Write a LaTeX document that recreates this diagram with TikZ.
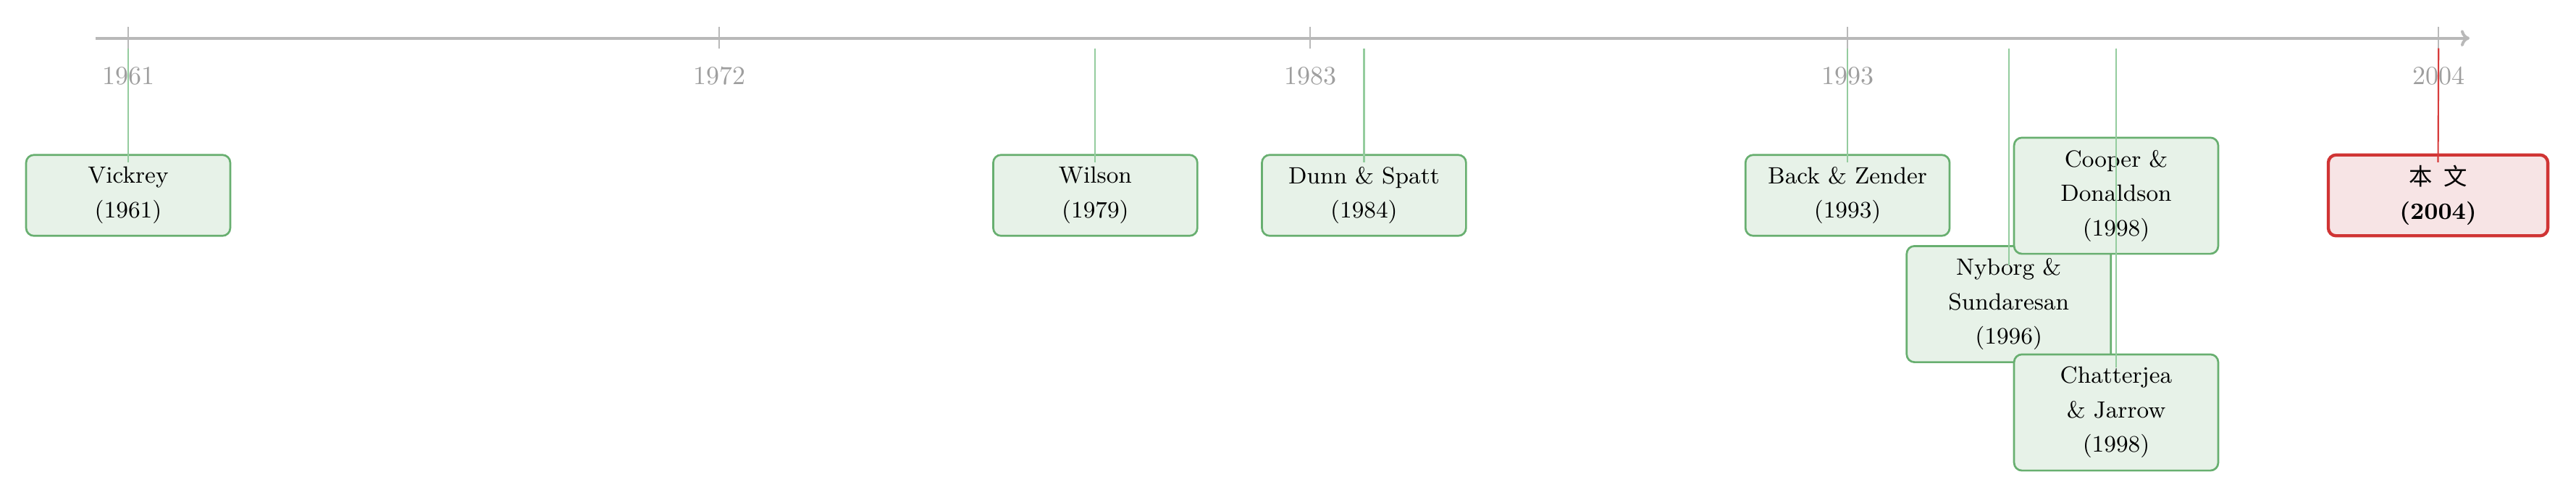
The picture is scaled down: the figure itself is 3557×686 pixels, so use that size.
\documentclass[tikz,border=0pt]{standalone}
\usepackage{fontspec}
\newfontfamily\cjk{Noto Sans CJK SC}
\usetikzlibrary{arrows.meta}
\definecolor{axisgray}{RGB}{185,185,185}
\definecolor{labelgray}{RGB}{158,158,158}
\definecolor{boxborder}{RGB}{104,175,112}
\definecolor{boxfill}{RGB}{231,242,232}
\definecolor{conngreen}{RGB}{148,204,158}
\definecolor{redborder}{RGB}{208,52,52}
\definecolor{redfill}{RGB}{247,228,229}
\definecolor{connred}{RGB}{215,60,60}
\begin{document}
\begin{tikzpicture}[x=0.277778pt,y=-0.277778pt,
  axisline/.style={draw=axisgray,line width=1.1pt,-{Computer Modern Rightarrow[length=3.4pt,width=6.4pt,line cap=round]}},
  tickmark/.style={draw=axisgray,line width=0.6pt},
  yearlabel/.style={text=labelgray,font=\fontsize{10}{12}\selectfont,inner sep=0pt},
  paper/.style={draw=boxborder,fill=boxfill,line width=0.75pt,rounded corners=3pt,align=center,
    font=\fontsize{9}{13.2}\selectfont,minimum width=78.3pt,inner sep=2pt},
  twoline/.style={minimum height=31pt},
  threeline/.style={minimum height=44.5pt},
  oursbox/.style={paper,draw=redborder,fill=redfill,line width=1.2pt,minimum width=84.2pt,
    font=\fontsize{9}{13.2}\selectfont\bfseries},
  conn/.style={draw=conngreen,line width=0.6pt},
  connours/.style={draw=connred,line width=0.6pt}
]
\useasboundingbox (0,0) rectangle (3557,686);

% axis
\coordinate (axL) at (132,52.7);
\coordinate (axR) at (3410,52.7);
\draw[axisline] (axL) -- (axR);

% ticks and year labels
\foreach \yr/\x in {1961/177,1972/993.1,1983/1809.2,1993/2551.1,2004/3367.2}{
  \draw[tickmark] (\x,37) -- (\x,67);
  \node[yearlabel] (lab\yr) at (\x,105) {\yr};
}

% connector start points (just below the axis)
\coordinate (s1961) at (177,66.5);
\coordinate (s1979) at (1512.4,66.5);
\coordinate (s1984) at (1883.4,66.5);
\coordinate (s1993) at (2551.1,66.5);
\coordinate (s1996) at (2773.7,66.5);
\coordinate (s1998) at (2922,66.5);
\coordinate (s2004) at (3367.2,66.5);

% boxes
\node[paper,twoline] (vickrey) at (177,269.5) {Vickrey\\(1961)};
\node[paper,twoline] (wilson) at (1512.4,269.5) {Wilson\\(1979)};
\node[paper,twoline] (dunn) at (1883.4,269.5) {Dunn \& Spatt\\(1984)};
\node[paper,twoline] (back) at (2551.1,269.5) {Back \& Zender\\(1993)};
\node[paper,threeline] (nyborg) at (2773.7,419.5) {Nyborg \&\\Sundaresan\\(1996)};
\node[paper,threeline] (cooper) at (2922,270) {Cooper \&\\Donaldson\\(1998)};
\node[paper,threeline] (chatterjea) at (2922,569) {Chatterjea\\\& Jarrow\\(1998)};
\node[oursbox,twoline] (ours) at (3366.5,269.5) {{\cjk\mdseries 本\hspace{0.5em}文}\\(2004)};

% connectors
\draw[conn] (s1961) -- ([yshift=-3.2pt]vickrey.north);
\draw[conn] (s1979) -- ([yshift=-3.2pt]wilson.north);
\draw[conn] (s1984) -- ([yshift=-3.2pt]dunn.north);
\draw[conn] (s1993) -- ([yshift=-3.2pt]back.north);
\draw[conn] (s1996) -- ([yshift=-7.8pt]nyborg.north);
\draw[conn] (s1998) -- ([yshift=-3.2pt]cooper.north);
\draw[conn] (s1998) -- ([yshift=-5.3pt]chatterjea.north);
\draw[connours] (s2004) -- ([yshift=-3.4pt]ours.north);
\end{tikzpicture}
\end{document}
